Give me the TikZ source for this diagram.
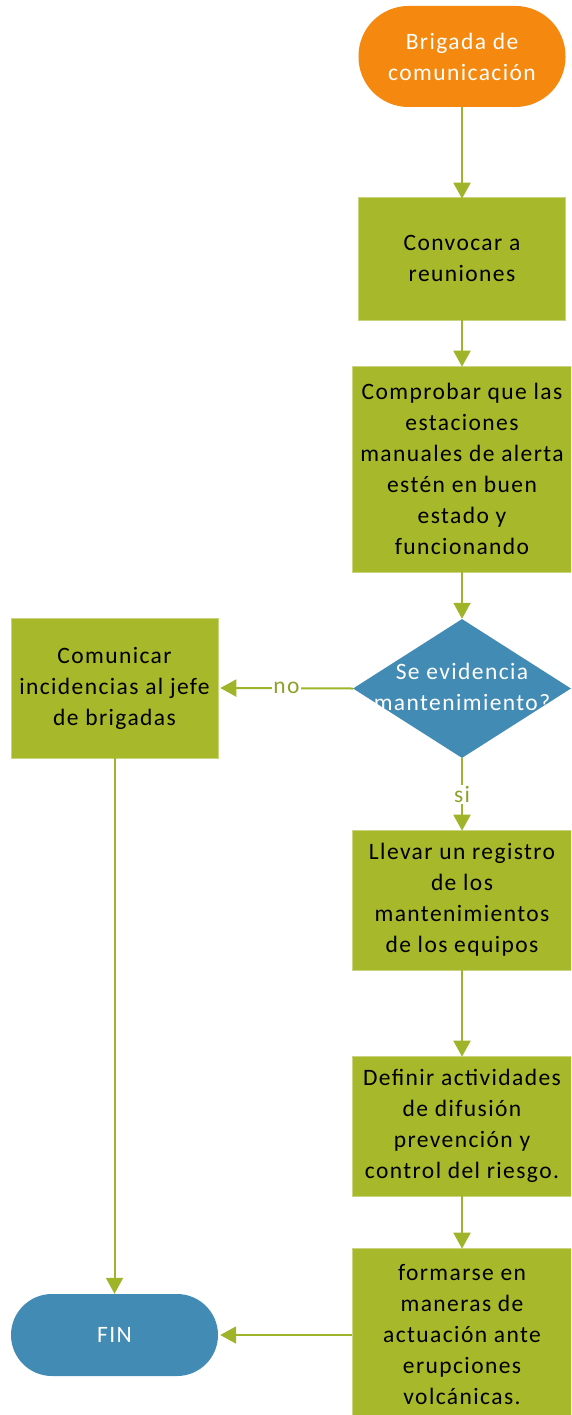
\documentclass[tikz,border=0pt]{standalone}
\usepackage{fontspec}
\setmainfont{Carlito}[LetterSpace=6]
\usetikzlibrary{shapes.geometric,arrows.meta}
\definecolor{cOrange}{HTML}{F5880F}
\definecolor{cGreen}{HTML}{A7B82A}
\definecolor{cBlue}{HTML}{428BB4}
\definecolor{cArrow}{HTML}{A0B42A}
\definecolor{cLabel}{HTML}{8FA12A}
\tikzset{
  base/.style={align=center, inner sep=0pt, font=\fontsize{23.5}{31}\selectfont},
  greenbox/.style={base, fill=cGreen, draw=cGreen!60!white, line width=0.6pt, text=black},
  termbox/.style={base, draw=none, text=white},
  decision/.style={base, diamond, fill=cBlue, text=white, draw=none},
  flow/.style={draw=cArrow, line width=2pt, -{Triangle[width=17pt,length=16pt]}},
  lbl/.style={fill=white, text=cLabel, inner sep=1pt, font=\fontsize{23.5}{27}\selectfont}
}
\begin{document}
\begin{tikzpicture}[x=1pt,y=-1pt]
\useasboundingbox (0,0) rectangle (571,1415);
\clip (0,0) rectangle (571,1415);
\node[termbox, fill=cOrange, minimum width=207pt, minimum height=101pt, rounded corners=50pt] (start) at (462,56.5) {Brigada de\\comunicación};
\node[greenbox, minimum width=207pt, minimum height=123pt] (b1) at (462,258.5) {Convocar a\\reuniones};
\node[greenbox, minimum width=219pt, minimum height=206pt] (b2) at (462,469) {Comprobar que las\\estaciones\\manuales de alerta\\estén en buen\\estado y\\funcionando};
\node[decision, minimum width=218pt, minimum height=139pt] (d) at (462,688.5) {\makebox[0pt]{\begin{tabular}{@{}c@{}}Se evidencia\\mantenimiento?\end{tabular}}};
\node[greenbox, minimum width=207pt, minimum height=140pt] (L) at (114.5,688) {Comunicar\\incidencias al jefe\\de brigadas};
\node[greenbox, minimum width=219pt, minimum height=140pt] (b3) at (462,900) {Llevar un registro\\de los\\mantenimientos\\de los equipos};
\node[greenbox, minimum width=219pt, minimum height=140pt] (b4) at (462,1126) {Definir actividades\\de difusión\\prevención y\\control del riesgo.};
\node[greenbox, minimum width=219pt, minimum height=174pt] (b5) at (462,1335) {formarse en\\maneras de\\actuación ante\\erupciones\\volcánicas.};
\node[termbox, fill=cBlue, minimum width=207pt, minimum height=82pt, rounded corners=41pt] (fin) at (114.5,1335) {FIN};

\draw[flow] (start.south) -- ([yshift=-2pt]b1.north);
\draw[flow] (b1.south) -- ([yshift=-1pt]b2.north);
\draw[flow] (b2.south) -- (d.north);
\draw[flow] (d.west) -- node[lbl]{no} ([xshift=2pt]L.east);
\draw[flow] (d.south) -- node[lbl]{si} ([yshift=-1pt]b3.north);
\draw[flow] (b3.south) -- ([yshift=-1pt]b4.north);
\draw[flow] (b4.south) -- ([yshift=-1pt]b5.north);
\draw[flow] (b5.west) -- ([xshift=2pt]fin.east);
\draw[flow] (L.south) -- (fin.north);
\end{tikzpicture}
\end{document}
